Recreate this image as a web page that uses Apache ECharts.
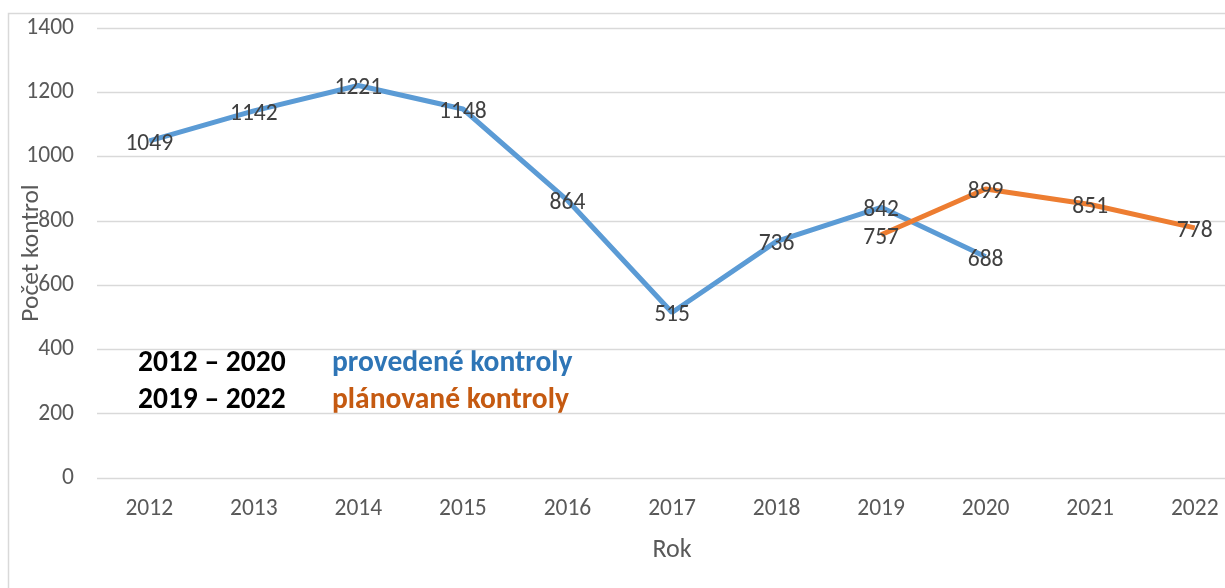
<!DOCTYPE html>
<html>
<head>
<meta charset="utf-8">
<script src="https://cdn.jsdelivr.net/npm/echarts@6/dist/echarts.min.js"></script>
<style>
    html, body { margin: 0; padding: 0; background: #fff; }
    #chart { width: 1225px; height: 588px; }
</style>
</head>
<body>
<div id="chart"></div>
<script>
// roky na ose X
var years = ['2012', '2013', '2014', '2015', '2016', '2017', '2018', '2019', '2020', '2021', '2022'];
// provedené kontroly 2012 - 2020
var doneValues = [1049, 1142, 1221, 1148, 864, 515, 736, 842, 688, null, null];
// plánované kontroly 2019 - 2022
var plannedValues = [null, null, null, null, null, null, null, 757, 899, 851, 778];
var yTicks = [0, 200, 400, 600, 800, 1000, 1200, 1400];

var font = 'Carlito, "Liberation Sans", sans-serif';

var myChart = echarts.init(document.getElementById('chart'));
var labelOpt = {
    show: true,
    position: 'inside',
    offset: [0, 3],
    color: '#404040',
    fontSize: 23.5,
    fontFamily: font
};
myChart.setOption({
    animation: false,
    grid: { left: 97, width: 1150, top: 28, bottom: 110, outerBoundsMode: 'none', containLabel: false },
    xAxis: {
        type: 'category',
        data: years,
        boundaryGap: true,
        name: 'Rok',
        nameLocation: 'middle',
        nameGap: 59,
        nameMoveOverlap: false,
        nameTextStyle: { color: '#595959', fontSize: 26, fontFamily: font },
        axisLine: { show: false },
        axisTick: { show: false },
        axisLabel: { color: '#595959', fontSize: 23.5, fontFamily: font, margin: 19 }
    },
    yAxis: {
        type: 'value',
        min: yTicks[0],
        max: yTicks[yTicks.length - 1],
        interval: 200,
        name: 'Počet kontrol',
        nameLocation: 'middle',
        nameGap: 52,
        nameMoveOverlap: false,
        nameTextStyle: { color: '#595959', fontSize: 25.5, fontFamily: font },
        axisLine: { show: false },
        axisTick: { show: false },
        axisLabel: {
            color: '#595959', fontSize: 23.5, fontFamily: font, margin: 23,
            formatter: function (v) { return String(v); }
        },
        splitLine: { lineStyle: { color: '#d9d9d9', width: 1.3 } }
    },
    series: [
        {
            name: 'provedené kontroly',
            type: 'line',
            data: doneValues,
            showSymbol: true,
            symbol: 'circle',
            symbolSize: 0.1,
            itemStyle: { color: '#5b9bd5' },
            lineStyle: { color: '#5b9bd5', width: 5 },
            label: labelOpt,
            z: 2
        },
        {
            name: 'plánované kontroly',
            type: 'line',
            data: plannedValues,
            showSymbol: true,
            symbol: 'circle',
            symbolSize: 0.1,
            itemStyle: { color: '#ed7d31' },
            lineStyle: { color: '#ed7d31', width: 5 },
            label: labelOpt,
            z: 3
        }
    ],
    graphic: [
        {
            type: 'rect',
            shape: { x: 8.5, y: 13.5, width: 1400, height: 800 },
            style: { fill: 'none', stroke: '#d9d9d9', lineWidth: 1.5 },
            silent: true
        },
        {
            type: 'text', x: 138, y: 364,
            style: { text: '2012 – 2020', fill: '#000', font: 'bold 29.5px ' + font, verticalAlign: 'middle', textVerticalAlign: 'middle' }
        },
        {
            type: 'text', x: 332, y: 364,
            style: { text: 'provedené kontroly', fill: '#2e75b6', font: 'bold 29.5px ' + font, verticalAlign: 'middle', textVerticalAlign: 'middle' }
        },
        {
            type: 'text', x: 138, y: 401,
            style: { text: '2019 – 2022', fill: '#000', font: 'bold 29.5px ' + font, verticalAlign: 'middle', textVerticalAlign: 'middle' }
        },
        {
            type: 'text', x: 332, y: 401,
            style: { text: 'plánované kontroly', fill: '#c55a11', font: 'bold 29.5px ' + font, verticalAlign: 'middle', textVerticalAlign: 'middle' }
        }
    ]
});
</script>
</body>
</html>
